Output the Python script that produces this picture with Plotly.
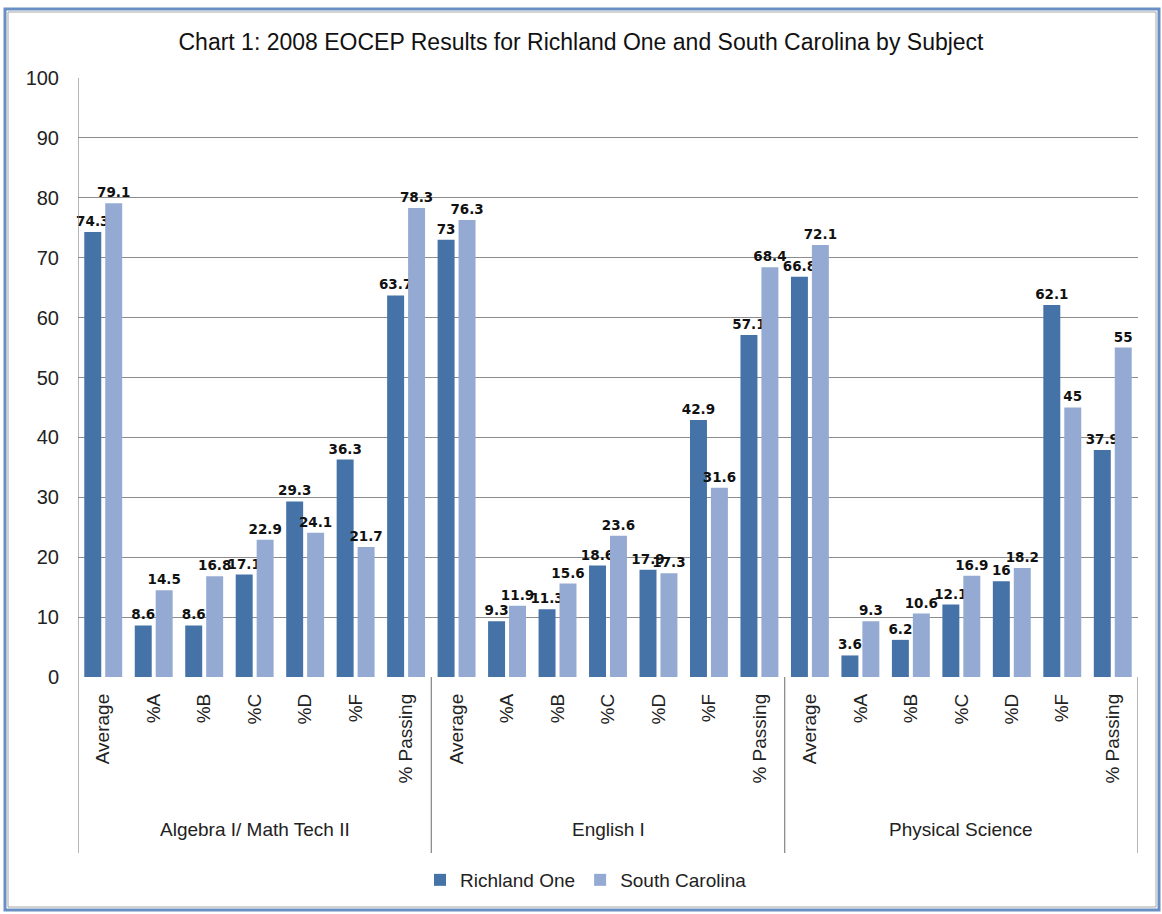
import plotly.graph_objects as go

# ---- data ----
groups = ["Algebra I/ Math Tech II", "English I", "Physical Science"]
measures = ["Average", "%A", "%B", "%C", "%D", "%F", "% Passing"]
richland_one = [74.3, 8.6, 8.6, 17.1, 29.3, 36.3, 63.7,
                73, 9.3, 11.3, 18.6, 17.9, 42.9, 57.1,
                66.8, 3.6, 6.2, 12.1, 16, 62.1, 37.9]
south_carolina = [79.1, 14.5, 16.8, 22.9, 24.1, 21.7, 78.3,
                  76.3, 11.9, 15.6, 23.6, 17.3, 31.6, 68.4,
                  72.1, 9.3, 10.6, 16.9, 18.2, 45, 55]
series_names = ["Richland One", "South Carolina"]
y_ticks = list(range(0, 101, 10))

# ---- layout constants ----
W, H = 1162, 914
L, R, T, B = 78, 24, 78, 237
PW, PH = W - L - R, H - T - B
FONT = "Liberation Sans, Arial, sans-serif"
LABEL_FONT = "DejaVu Sans, Verdana, sans-serif"
C1, C2 = "#4572A7", "#95AAD2"

def px_x(p):
    return (p - L) / PW

def px_y(p):
    return (H - B - p) / PH

cats = [m for g in groups for m in measures]
xpos = list(range(len(cats)))
fmt = lambda v: f"{v:g}"

fig = go.Figure()
for name, vals, col in [(series_names[0], richland_one, C1),
                        (series_names[1], south_carolina, C2)]:
    fig.add_trace(go.Bar(
        x=xpos, y=vals, name=name, marker=dict(color=col, line=dict(width=0)),
        text=[fmt(v) for v in vals], textposition="outside", textangle=0,
        constraintext="none", cliponaxis=False,
        textfont=dict(family=LABEL_FONT, size=13.5, color="#111111", weight="bold"),
    ))

shapes = []
n = len(measures)
# group dividers / category axis lines
for k in range(len(groups) + 1):
    xb = k * n - 0.5
    y_top = 1 if k == 0 else 0
    shapes.append(dict(type="line", xref="x", yref="paper", x0=xb, x1=xb,
                       y0=y_top, y1=px_y(853), line=dict(color="#8c8c8c", width=1.3)))
# outer chart frame
shapes.append(dict(type="rect", xref="paper", yref="paper",
                   x0=px_x(5), x1=px_x(1159), y0=px_y(910), y1=px_y(9),
                   line=dict(color="#6A8FC4", width=3)))
shapes.append(dict(type="rect", xref="paper", yref="paper",
                   x0=px_x(8), x1=px_x(1156), y0=px_y(907), y1=px_y(12),
                   line=dict(color="#a6a6a6", width=1)))

annotations = []
for gi, g in enumerate(groups):
    annotations.append(dict(text=g, x=gi * n + (n - 1) / 2, xref="x",
                            y=px_y(830), yref="paper", showarrow=False,
                            xanchor="center", yanchor="middle",
                            font=dict(family=FONT, size=19, color="#222222")))

fig.update_layout(
    width=W, height=H,
    margin=dict(l=L, r=R, t=T, b=B, autoexpand=False),
    paper_bgcolor="white", plot_bgcolor="white",
    barmode="group", bargap=0.17, bargroupgap=0.19,
    title=dict(text="Chart 1: 2008 EOCEP Results for Richland One and South Carolina by Subject",
               x=px_x(581), xref="paper", xanchor="center",
               y=1 - 42 / H, yanchor="middle",
               font=dict(family=FONT, size=23, color="#111111")),
    xaxis=dict(tickmode="array", tickvals=xpos, ticktext=cats, tickangle=-90,
               range=[-0.5, len(cats) - 0.5], showgrid=False, zeroline=False,
               showline=False, ticks="", ticklabelstandoff=12,
               tickfont=dict(family=FONT, size=19, color="#222222")),
    yaxis=dict(range=[0, 100], tickvals=y_ticks, showgrid=True,
               gridcolor="#8c8c8c", gridwidth=1, zeroline=False,
               showline=False, ticks="", ticklabelstandoff=18,
               tickfont=dict(family=FONT, size=20, color="#222222")),
    legend=dict(orientation="h", x=px_x(586), xanchor="center",
                y=px_y(880), yanchor="middle",
                font=dict(family=FONT, size=19, color="#222222"),
                itemwidth=30, traceorder="normal"),
    shapes=shapes, annotations=annotations,
)

fig.write_html("out.html", config={"displayModeBar": False},
               post_script="document.body.style.margin='0';")
